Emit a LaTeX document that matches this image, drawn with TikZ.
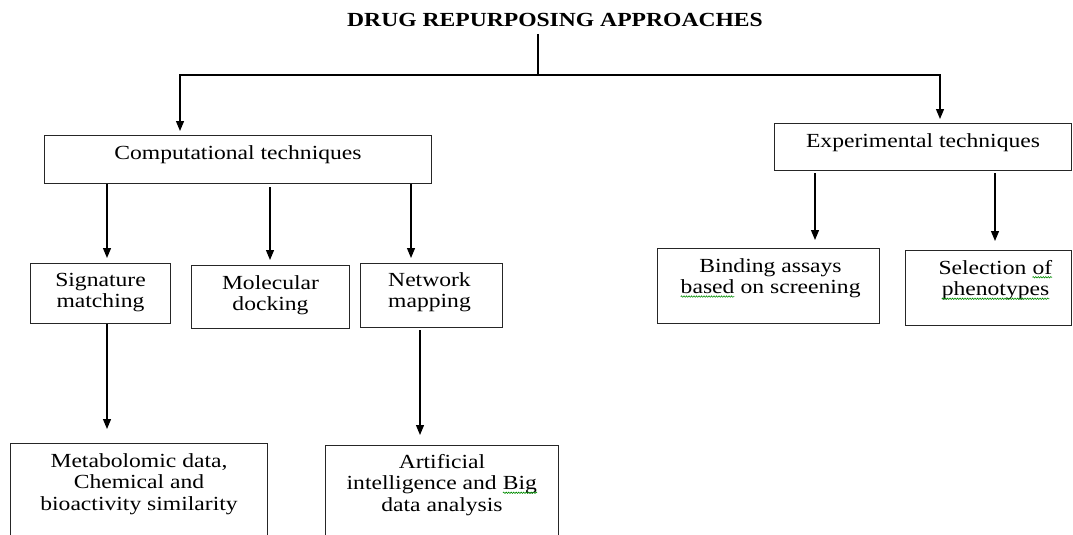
\documentclass[tikz,border=0pt]{standalone}
\usepackage{fontspec}
\setmainfont{Liberation Serif}[FakeStretch=1.18]
\usetikzlibrary{arrows.meta,decorations.pathmorphing,calc}
\newcommand\sqg[1]{\tikz[baseline=(w.base)]{\node[inner sep=0pt,outer sep=0pt](w){#1};\draw[green!55!black,line width=0.6pt,decorate,decoration={snake,amplitude=0.7pt,segment length=2.5pt}]([yshift=-3pt]w.base west)--([yshift=-3pt]w.base east);}}
\begin{document}
\begin{tikzpicture}[x=1pt,y=-1pt,
  box/.style={draw=black!85,line width=1pt,anchor=north west,inner sep=0pt},
  lbl/.style={align=center,inner sep=0pt,anchor=north,font=\fontsize{20}{21.5}\selectfont},
  arr/.style={line width=1.2pt,-{Triangle[length=10pt,width=8pt]}},
  ln/.style={line width=1.2pt}]
\fill[white] (0,0) rectangle (1073,535);
\useasboundingbox (0,0) rectangle (1073,535);
\clip (0,0) rectangle (1073,535);

\node[font=\bfseries\fontsize{20}{22}\selectfont,inner sep=0pt] (title) at (555,20) {DRUG REPURPOSING APPROACHES};

% boxes
\node[box,minimum width=387,minimum height=48] (comp) at (44,135) {};
\node[box,minimum width=297,minimum height=47] (exp) at (774,123) {};
\node[box,minimum width=140,minimum height=60] (sig) at (30,263) {};
\node[box,minimum width=158,minimum height=63] (mol) at (191,265) {};
\node[box,minimum width=142,minimum height=64] (net) at (360,263) {};
\node[box,minimum width=222,minimum height=75] (bind) at (657,248) {};
\node[box,minimum width=166,minimum height=75] (sel) at (905,250) {};
\node[box,minimum width=257,minimum height=120] (meta) at (10,443) {};
\node[box,minimum width=233,minimum height=120] (ai) at (325,445) {};

% texts
\node[lbl] (compt) at ([yshift=-10pt]comp.north) {Computational techniques};
\node[lbl] (expt) at ([yshift=-10pt]exp.north) {Experimental techniques};
\node[lbl] (sigt) at ([yshift=-10pt]sig.north) {Signature\\matching};
\node[lbl] (molt) at ([yshift=-10pt]mol.north) {Molecular\\docking};
\node[lbl] (nett) at ([yshift=-9pt,xshift=-2pt]net.north) {Network\\mapping};
\node[lbl] (bindt) at ([yshift=-10pt,xshift=2pt]bind.north) {Binding assays\\\sqg{based} on screening};
\node[lbl] (selt) at ([yshift=-10pt,xshift=7pt]sel.north) {Selection \sqg{of}\\\sqg{phenotypes}};
\node[lbl] (metat) at ([yshift=-10pt]meta.north) {Metabolomic data,\\Chemical and\\bioactivity similarity};
\node[lbl] (ait) at ([yshift=-9pt]ai.north) {Artificial\\intelligence and \sqg{Big}\\data analysis};

% connectors
\coordinate (top) at (538,34);
\coordinate (mid) at (538,75);
\coordinate (xl) at (180,0);
\coordinate (xr) at (940,0);
\coordinate (xa) at (107,0);
\coordinate (xb) at (270,0);
\coordinate (xc) at (411,0);
\coordinate (xd) at (815,0);
\coordinate (xe) at (995,0);
\coordinate (xf) at (420,0);

\draw[ln] (top) -- (mid);
\draw[arr,shorten >=4pt] (mid) -| (comp.north -| xl);
\draw[arr,shorten >=4pt] (mid) -| (exp.north -| xr);

\draw[arr,shorten >=5pt] (comp.south -| xa) -- (sig.north -| xa);
\draw[arr,shorten >=5pt,shorten <=3pt] (comp.south -| xb) -- (mol.north -| xb);
\draw[arr,shorten >=5pt] (comp.south -| xc) -- (net.north -| xc);

\draw[arr,shorten >=8pt,shorten <=2pt] (exp.south -| xd) -- (bind.north -| xd);
\draw[arr,shorten >=9pt,shorten <=2pt] (exp.south -| xe) -- (sel.north -| xe);

\draw[arr,shorten >=14pt] (sig.south -| xa) -- (meta.north -| xa);
\draw[arr,shorten >=10pt,shorten <=2pt] (net.south -| xf) -- (ai.north -| xf);
\end{tikzpicture}
\end{document}
